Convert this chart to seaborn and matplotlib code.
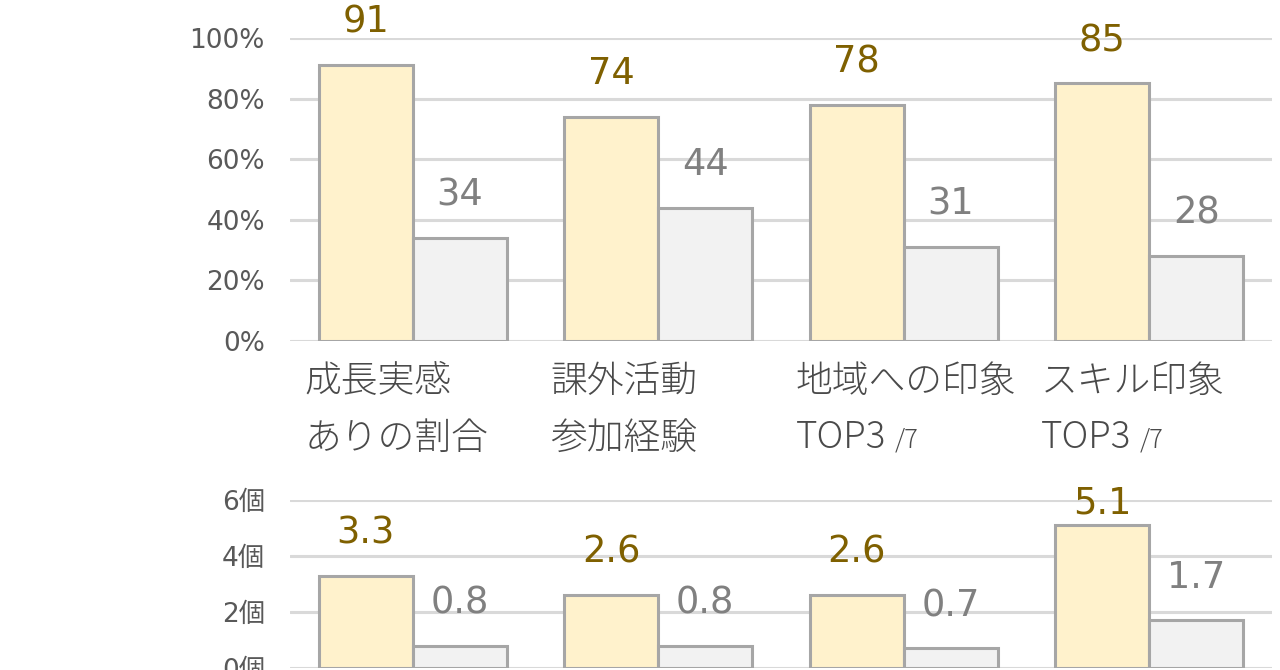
import matplotlib
matplotlib.use('Agg')
import matplotlib.pyplot as plt
import seaborn as sns
import pandas as pd

# data
categories = ['成長実感', '課外活動', '地域への印象', 'スキル印象']
label_line2 = ['ありの割合', '参加経験', 'TOP3', 'TOP3']
label_suffix = ['', '', '/7', '/7']
series = ['対象', '比較']
pct_target = [91, 74, 78, 85]
pct_other = [34, 44, 31, 28]
cnt_target = [3.3, 2.6, 2.6, 5.1]
cnt_other = [0.8, 0.8, 0.7, 1.7]

sns.set_theme(style='white')
plt.rcParams['font.family'] = ['DejaVu Sans', 'Noto Sans CJK JP']
jp_font = ['Noto Sans CJK JP', 'DejaVu Sans']


def long_df(a, b):
    return pd.DataFrame({
        'cat': categories * 2,
        'series': [series[0]] * len(a) + [series[1]] * len(b),
        'value': a + b,
    })


fig = plt.figure(figsize=(12.8, 6.7), dpi=100)
ax1 = fig.add_axes([290 / 1280, 329 / 670, 982 / 1280, 303 / 670])
ax2 = fig.add_axes([290 / 1280, 2 / 670, 982 / 1280, 168 / 670])

setups = [
    (ax1, pct_target, pct_other, '{:.0f}', '{:.0f}%', range(0, 101, 20), 100),
    (ax2, cnt_target, cnt_other, '{:.1f}', '{:.0f}個', range(0, 7, 2), 6),
]

for ax, a, b, vfmt, tfmt, ticks, ymax in setups:
    sns.barplot(data=long_df(a, b), x='cat', y='value', hue='series',
                palette=['#FFF2CC', '#F2F2F2'], saturation=1, width=0.766,
                gap=0, edgecolor='#A6A6A6', linewidth=2.2, errorbar=None,
                legend=False, ax=ax)
    ax.set_axisbelow(True)
    ax.set_ylim(0, ymax)
    ax.set_xlim(-0.5, len(categories) - 0.5)
    ax.set_yticks(list(ticks))
    ax.set_yticklabels([tfmt.format(t) for t in ticks])
    ax.yaxis.grid(True, color='#D9D9D9', linewidth=2.2)
    ax.xaxis.grid(False)
    ax.tick_params(axis='y', labelsize=19, labelcolor='#595959', length=0, pad=18)
    ax.tick_params(axis='x', bottom=False, labelbottom=False)
    ax.set_xlabel('')
    ax.set_ylabel('')
    for s in ax.spines.values():
        s.set_visible(False)
    for cont, col in zip(ax.containers, ['#7F6000', '#808080']):
        ax.bar_label(cont, fmt=vfmt, padding=17.5, fontsize=26.5, color=col)

# category labels under the top chart
for i, cat in enumerate(categories):
    ax1.annotate(cat, xy=(i - 0.44, 0), xycoords=('data', 'axes fraction'),
                 xytext=(0, -29.5), textcoords='offset points',
                 ha='left', va='center', fontsize=26.5, family=jp_font,
                 fontweight='light', color='#4a4a4a')
    t2 = ax1.annotate(label_line2[i], xy=(i - 0.44, 0),
                      xycoords=('data', 'axes fraction'),
                      xytext=(0, -70), textcoords='offset points',
                      ha='left', va='center', fontsize=26.5, family=jp_font,
                      fontweight='light', color='#4a4a4a')
    if label_suffix[i]:
        ax1.annotate(label_suffix[i], xy=(1, 0), xycoords=t2,
                     xytext=(6, 3), textcoords='offset points',
                     ha='left', va='bottom', fontsize=18.5, family=jp_font,
                     fontweight='light', color='#4a4a4a')

# keep the lower chart's labels close to its plot area, as in the original
fig.canvas.draw()
limit = ax2.bbox.y1 + 16
for txt in ax2.texts:
    ext = txt.get_window_extent()
    if ext.y1 > limit:
        dx, dy = txt.xyann
        txt.xyann = (dx, dy - (ext.y1 - limit) * 72 / fig.dpi)

fig.savefig('out.png', dpi=100)
